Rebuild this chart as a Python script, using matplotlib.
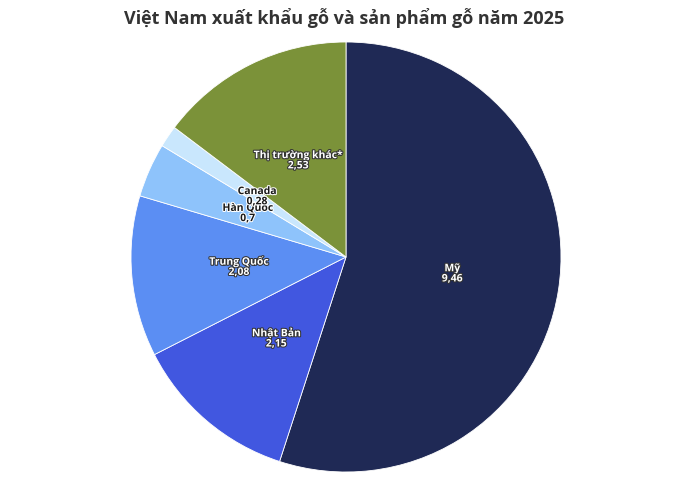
import matplotlib
matplotlib.use('Agg')
import matplotlib.pyplot as plt
import matplotlib.patheffects as pe

plt.rcParams['font.family'] = ['Open Sans', 'DejaVu Sans']

markets = ['Mỹ', 'Nhật Bản', 'Trung Quốc', 'Hàn Quốc', 'Canada', 'Thị trường khác*']
values = [9.46, 2.15, 2.08, 0.7, 0.28, 2.53]
value_labels = ['9,46', '2,15', '2,08', '0,7', '0,28', '2,53']
colors = ['#1f2955', '#4157e0', '#5b8ef3', '#8ec3fb', '#c9e7fd', '#7b9239']
text_dark = [False, False, False, True, True, False]

fig = plt.figure(figsize=(6.88, 4.81), dpi=100)
cx, cy, r = 346, 258, 215
ax = fig.add_axes([(cx - r) / 688, (481 - cy - r) / 481, 2 * r / 688, 2 * r / 481])
wedges, _ = ax.pie(values, colors=colors, startangle=90, counterclock=False,
                   wedgeprops=dict(linewidth=0.6, edgecolor='white'))
ax.set_xlim(-1, 1)
ax.set_ylim(-1, 1)
ax.axis('off')

import numpy as np
total = sum(values)
cum = 0
for name, v, lab, dark in zip(markets, values, value_labels, text_dark):
    mid = cum + v / 2
    cum += v
    ang = np.deg2rad(90 - 360 * mid / total)
    x, y = 0.5 * np.cos(ang), 0.5 * np.sin(ang)
    if dark:
        fc, sc = '#1a1a1a', 'white'
    else:
        fc, sc = 'white', '#333333'
    ax.text(x, y, name + '\n' + lab, ha='center', va='center', fontsize=7.5,
            fontweight='bold', color=fc, linespacing=0.9,
            path_effects=[pe.withStroke(linewidth=1.5, foreground=sc)])

fig.text(0.5, 0.962, 'Việt Nam xuất khẩu gỗ và sản phẩm gỗ năm 2025', ha='center', va='center',
         fontsize=13, fontweight='bold', color='#333333')

fig.savefig('out.png', dpi=100)
